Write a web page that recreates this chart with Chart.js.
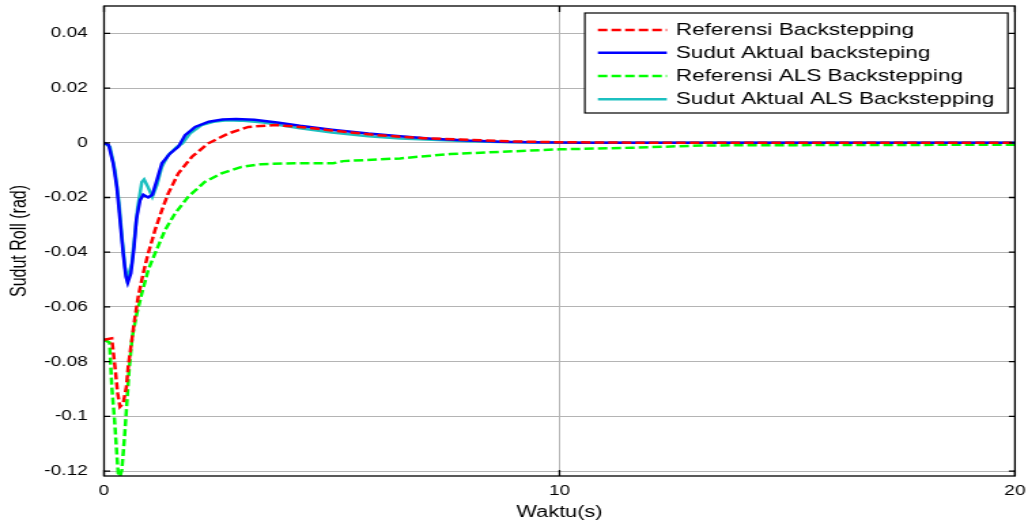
<!DOCTYPE html>
<html>
<head>
<meta charset="utf-8">
<script src="https://cdn.jsdelivr.net/npm/chart.js@4/dist/chart.umd.min.js"></script>
<style>
  html, body { margin: 0; padding: 0; background: #fff; overflow: hidden; }
  #c { display: block; }
</style>
</head>
<body>
<canvas id="c" width="756" height="524" style="width:1028px;height:524px;"></canvas>
<script>
// ---- data ----
const seriesLabels = ['Referensi Backstepping', 'Sudut Aktual backsteping', 'Referensi ALS Backstepping', 'Sudut Aktual ALS Backstepping'];

const tRefBS = [0, 0.17, 0.24, 0.30, 0.35, 0.42, 0.49, 0.53, 0.61, 0.68, 0.75, 0.86, 0.97, 1.12, 1.27, 1.41, 1.63, 1.93, 2.29, 2.73, 3.17, 3.75, 4.3, 5.0, 6.0, 7.0, 7.8, 9.0, 10.0, 12.0, 20];
const vRefBS = [-0.072, -0.0715, -0.0819, -0.0916, -0.0965, -0.0953, -0.0892, -0.0819, -0.0721, -0.0636, -0.0563, -0.0477, -0.0404, -0.0319, -0.0246, -0.0185, -0.0112, -0.0051, -0.0002, 0.0034, 0.0058, 0.0065, 0.0058, 0.0045, 0.0028, 0.0017, 0.0012, 0.0005, 0.0002, 0, 0];

const tActBS = [0, 0.1, 0.2, 0.28, 0.35, 0.42, 0.48, 0.52, 0.59, 0.66, 0.71, 0.79, 0.86, 0.97, 1.06, 1.16, 1.27, 1.45, 1.63, 1.78, 2.0, 2.3, 2.6, 2.9, 3.3, 3.8, 4.3, 5.0, 5.8, 6.5, 7.2, 8.0, 8.7, 9.4, 10.5, 20];
const vActBS = [0, -0.0008, -0.0075, -0.016, -0.028, -0.0404, -0.049, -0.0512, -0.0477, -0.038, -0.028, -0.021, -0.019, -0.020, -0.019, -0.0136, -0.0075, -0.0039, -0.0015, 0.0028, 0.0058, 0.0077, 0.0085, 0.0087, 0.0084, 0.0074, 0.0062, 0.0048, 0.0034, 0.0024, 0.0015, 0.0008, 0.0004, 0.0002, 0, 0];

const tRefALS = [0, 0.12, 0.17, 0.23, 0.28, 0.31, 0.35, 0.39, 0.45, 0.50, 0.55, 0.62, 0.72, 0.83, 0.97, 1.12, 1.34, 1.56, 1.85, 2.21, 2.58, 3.02, 3.46, 4.19, 5.03, 5.25, 6.5, 7.6, 8.7, 10.0, 11.6, 13.1, 14.0, 20];
const vRefALS = [-0.072, -0.073, -0.089, -0.1013, -0.1135, -0.1208, -0.122, -0.1196, -0.1075, -0.0953, -0.0831, -0.0709, -0.0624, -0.055, -0.0465, -0.0404, -0.0319, -0.0258, -0.0197, -0.0143, -0.0112, -0.0088, -0.0078, -0.0075, -0.0075, -0.0067, -0.0057, -0.0041, -0.0033, -0.0024, -0.0018, -0.0010, -0.0009, -0.0007];

const tActALS = [0, 0.13, 0.24, 0.33, 0.40, 0.46, 0.51, 0.61, 0.68, 0.74, 0.83, 0.88, 0.96, 1.06, 1.16, 1.27, 1.41, 1.60, 1.72, 1.89, 2.14, 2.4, 2.7, 3.0, 3.5, 4.3, 5.0, 5.8, 6.5, 7.2, 8.0, 8.7, 9.4, 10.5, 20];
const vActALS = [0, -0.0015, -0.010, -0.022, -0.0356, -0.0453, -0.050, -0.044, -0.033, -0.0234, -0.0143, -0.0134, -0.016, -0.0197, -0.0155, -0.0088, -0.0045, -0.0015, -0.0002, 0.0034, 0.0065, 0.0077, 0.0082, 0.0081, 0.0074, 0.0053, 0.0038, 0.0024, 0.0016, 0.0011, 0.0006, 0.0003, 0.0001, 0, 0];

const xTicks = [0, 10, 20];
const xTickLabels = ['0', '10', '20'];
const yTicks = [-0.12, -0.1, -0.08, -0.06, -0.04, -0.02, 0, 0.02, 0.04];
const yTickLabels = ['-0.12', '-0.1', '-0.08', '-0.06', '-0.04', '-0.02', '0', '0.02', '0.04'];
const xTitle = 'Waktu(s)';
const yTitle = 'Sudut Roll (rad)';

// ---- build ----
const FONT = "'Liberation Sans', Arial, sans-serif";
const pts = (t, v) => t.map((x, i) => ({ x: x, y: v[i] }));

const datasets = [
  { label: seriesLabels[0], data: pts(tRefBS, vRefBS), borderColor: '#ff0000', borderDash: [7, 3] },
  { label: seriesLabels[1], data: pts(tActBS, vActBS), borderColor: '#0000ff', borderDash: [] },
  { label: seriesLabels[2], data: pts(tRefALS, vRefALS), borderColor: '#00ff00', borderDash: [7, 3] },
  { label: seriesLabels[3], data: pts(tActALS, vActALS), borderColor: '#1cc0c0', borderDash: [] }
].map(d => Object.assign(d, { borderWidth: 2.5, pointRadius: 0, fill: false, tension: 0 }));

const framePlugin = {
  id: 'frame',
  afterDatasetsDraw(chart) {
    const { ctx, chartArea: a, scales } = chart;
    ctx.save();
    ctx.strokeStyle = '#000';
    ctx.lineWidth = 1.3;
    ctx.setLineDash([]);
    ctx.strokeRect(a.left, a.top, a.right - a.left, a.bottom - a.top);
    ctx.beginPath();
    yTicks.forEach(v => {
      const y = scales.y.getPixelForValue(v);
      ctx.moveTo(a.left, y); ctx.lineTo(a.left + 4.5, y);
      ctx.moveTo(a.right, y); ctx.lineTo(a.right - 4.5, y);
    });
    xTicks.forEach(v => {
      const x = scales.x.getPixelForValue(v);
      ctx.moveTo(x, a.bottom); ctx.lineTo(x, a.bottom - 6);
      ctx.moveTo(x, a.top); ctx.lineTo(x, a.top + 6);
    });
    ctx.stroke();
    ctx.restore();
  },
  afterDraw(chart) {
    const { ctx } = chart;
    const box = { l: 430.1, t: 13, r: 741.2, b: 113 };
    const rows = [30, 52.7, 76, 99.3];
    ctx.save();
    ctx.fillStyle = '#fff';
    ctx.fillRect(box.l, box.t, box.r - box.l, box.b - box.t);
    ctx.strokeStyle = '#000';
    ctx.lineWidth = 1.2;
    ctx.strokeRect(box.l, box.t, box.r - box.l, box.b - box.t);
    chart.data.datasets.forEach((d, i) => {
      const y = rows[i];
      ctx.beginPath();
      ctx.strokeStyle = d.borderColor;
      ctx.lineWidth = 2.5;
      ctx.setLineDash(d.borderDash || []);
      ctx.moveTo(439.7, y); ctx.lineTo(490.4, y);
      ctx.stroke();
      ctx.setLineDash([]);
      ctx.fillStyle = '#000';
      ctx.font = '16.6px ' + FONT;
      ctx.textAlign = 'left';
      ctx.textBaseline = 'middle';
      ctx.fillText(d.label, 497, y + 0.5);
    });
    ctx.restore();
  }
};

new Chart(document.getElementById('c'), {
  type: 'line',
  data: { datasets: datasets },
  options: {
    responsive: false,
    animation: false,
    devicePixelRatio: 1,
    layout: { padding: { left: 0, right: 9.6, top: 6, bottom: 0 } },
    plugins: { legend: { display: false }, tooltip: { enabled: false } },
    scales: {
      x: {
        type: 'linear', min: 0, max: 20,
        afterBuildTicks: s => { s.ticks = xTicks.map(v => ({ value: v })); },
        afterFit: s => { s.height = 48; s.paddingLeft = 0; s.paddingRight = 0; },
        ticks: { color: '#000', font: { family: FONT, size: 14 }, padding: 7, maxRotation: 0, autoSkip: false,
                 callback: (v, i) => xTickLabels[i] },
        grid: { color: '#b4b4b4', lineWidth: 1, drawTicks: false },
        border: { display: false },
        title: { display: true, text: xTitle, color: '#000', font: { family: FONT, size: 16 }, padding: { top: 0, bottom: 2 } }
      },
      y: {
        type: 'linear', min: -0.1218, max: 0.05,
        afterBuildTicks: s => { s.ticks = yTicks.map(v => ({ value: v })); },
        afterFit: s => { s.width = 76.5; s.paddingTop = 0; s.paddingBottom = 0; },
        ticks: { color: '#000', font: { family: FONT, size: 14 }, padding: 12, autoSkip: false,
                 callback: (v, i) => yTickLabels[i] },
        grid: { color: '#b4b4b4', lineWidth: 1, drawTicks: false },
        border: { display: false },
        title: { display: true, text: yTitle, color: '#000', font: { family: FONT, size: 16 }, padding: { top: 5, bottom: 0 } }
      }
    }
  },
  plugins: [framePlugin]
});
</script>
</body>
</html>
